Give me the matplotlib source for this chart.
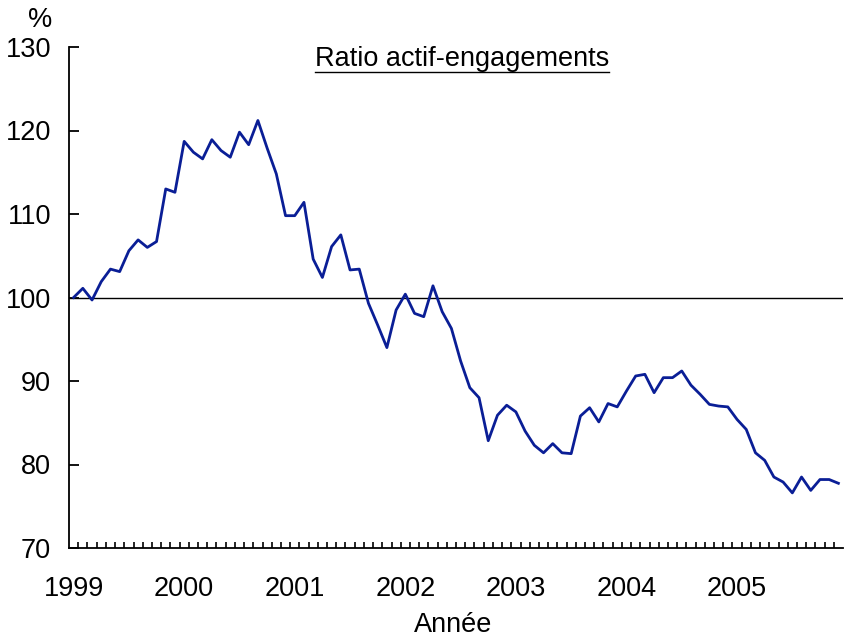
import matplotlib
matplotlib.use("Agg")
import matplotlib.pyplot as plt
from matplotlib.lines import Line2D

plt.rcParams['font.family'] = ['Liberation Sans', 'DejaVu Sans']

years = ["1999", "2000", "2001", "2002", "2003", "2004", "2005"]
ratio = [
    100.0, 101.1, 99.7, 101.9, 103.4, 103.1, 105.6, 106.9, 106.0, 106.7, 113.0, 112.6,
    118.7, 117.4, 116.6, 118.9, 117.6, 116.8, 119.8, 118.3, 121.2, 117.9, 114.8, 109.8,
    109.8, 111.4, 104.6, 102.4, 106.1, 107.5, 103.3, 103.4, 99.3, 96.7, 94.0, 98.5,
    100.4, 98.1, 97.7, 101.4, 98.3, 96.3, 92.4, 89.2, 88.0, 82.85, 85.9, 87.1,
    86.3, 84.0, 82.3, 81.4, 82.5, 81.4, 81.3, 85.8, 86.8, 85.1, 87.3, 86.9,
    88.8, 90.6, 90.8, 88.6, 90.4, 90.4, 91.2, 89.5, 88.4, 87.2, 87.0, 86.9,
    85.4, 84.2, 81.4, 80.5, 78.5, 77.9, 76.6, 78.5, 76.9, 78.2, 78.2, 77.75,
]
yticks = [70, 80, 90, 100, 110, 120, 130]
reference = 100

FS = 19.5
W, H = 844, 637
fig = plt.figure(figsize=(W / 100, H / 100), dpi=100)
ax = fig.add_axes([69 / W, 1 - 548 / H, (843 - 69) / W, (548 - 47) / H])

x = list(range(len(ratio)))
ax.axhline(reference, color='black', lw=1.0, zorder=2)
ax.plot(x, ratio, color='#0a1e96', lw=2.0, zorder=3)

ax.set_xlim(-0.5, len(ratio) - 0.5)
ax.set_ylim(70, 130)
ax.set_yticks(yticks)
ax.set_yticklabels([str(v) for v in yticks])
ax.set_xticks([12 * i for i in range(len(years))])
ax.set_xticklabels(years)
ax.set_xticks([k + 0.5 for k in range(len(ratio) - 1)], minor=True)

for s in ['top', 'right']:
    ax.spines[s].set_visible(False)
for s in ['left', 'bottom']:
    ax.spines[s].set_linewidth(1.3)

ax.tick_params(axis='x', which='major', length=0, pad=20, labelsize=FS)
ax.tick_params(axis='x', which='minor', direction='in', length=4.5, width=1.2)
ax.tick_params(axis='y', which='major', direction='in', length=7, width=1.3, pad=13, labelsize=FS)

fig.text(40 / W, 1 - 20 / H, '%', fontsize=FS, ha='center', va='center')
fig.text(453 / W, 1 - 625 / H, 'Année', fontsize=FS, ha='center', va='center')
t = fig.text(462 / W, 1 - 59 / H, 'Ratio actif-engagements', fontsize=FS, ha='center', va='center')

fig.canvas.draw()
bb = t.get_window_extent(fig.canvas.get_renderer())
uy = (H - 72) / H
fig.add_artist(Line2D([bb.x0 / W, bb.x1 / W], [uy, uy], color='black', lw=1.0, transform=fig.transFigure))

fig.savefig('out.png', dpi=100)
